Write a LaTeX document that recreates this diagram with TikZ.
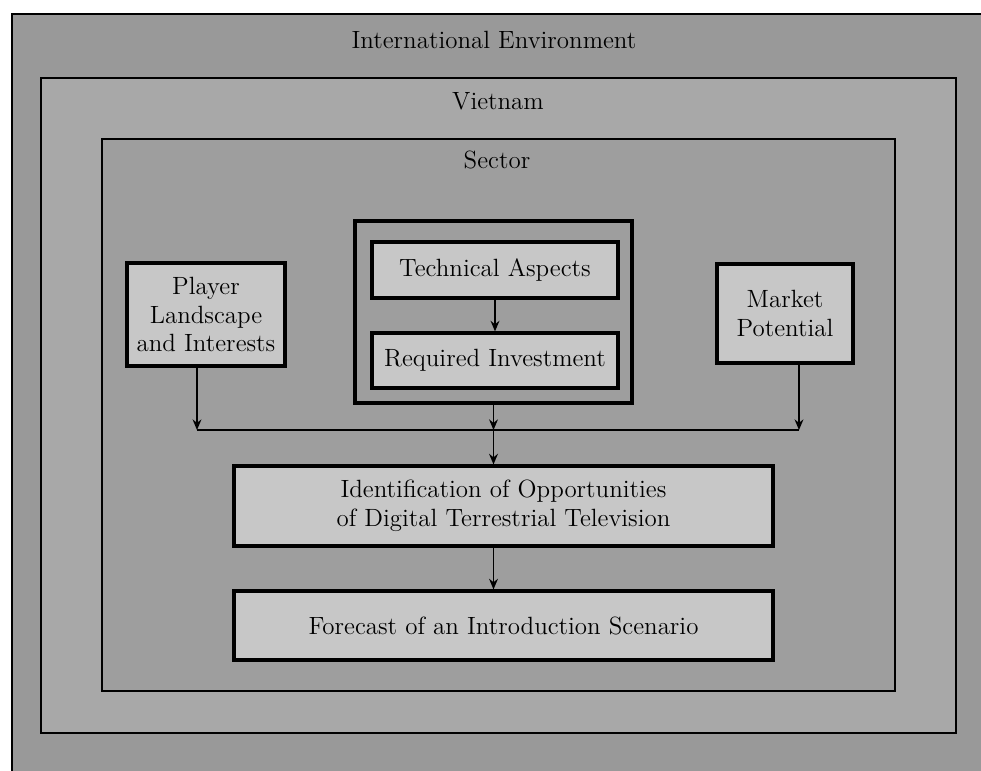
\documentclass[tikz,border=0pt]{standalone}
\usetikzlibrary{arrows.meta}

\tikzset{
  frame/.style={draw, line width=1pt, fill=#1, inner sep=0pt},
  box/.style={draw, line width=1.8pt, fill=black!22, align=center, inner sep=0pt},
  link/.style={line width=1.1pt},
  arr/.style={link, -{Stealth[length=6pt,width=5pt]}},
}

\begin{document}
\begin{tikzpicture}[x=0.02cm, y=-0.02cm, font=\fontsize{14.2}{16.4}\selectfont, node distance=1.81cm]
    \useasboundingbox (0,0) rectangle (981,771);
    \node(env)[frame=black!40, minimum width=19.56cm, minimum height=15.42cm] at (501,399.5) {};
    \node(vn)[frame=black!34, minimum width=18.3cm, minimum height=13.1cm] at (498.5,405.5) {};
    \node(sector)[frame=black!38, minimum width=15.86cm, minimum height=11.04cm] at (498.5,415) {};
    \node(envlabel) at (494,40) {International Environment};
    \node(vnlabel) at (498,101) {Vietnam};
    \node(sectorlabel) at (497,160) {Sector};

    \node(group)[draw, line width=1.8pt, minimum width=5.54cm, minimum height=3.64cm] at (493.5,312) {};
    \node(tech)[box, minimum width=4.92cm, minimum height=1.12cm] at (495,270) {Technical Aspects};
    \node(req)[box, minimum width=4.92cm, minimum height=1.1cm, below of=tech] {Required Investment};
    \node(player)[box, minimum width=3.16cm, minimum height=2.06cm] at (206,314.5) {Player\\Landscape\\and Interests};
    \node(market)[box, minimum width=2.72cm, minimum height=1.98cm] at (785,313.5) {Market\\Potential};
    \node(ident)[box, minimum width=10.78cm, minimum height=1.6cm] at (503.5,506) {Identification of Opportunities\\of Digital Terrestrial Television};
    \node(forecast)[box, minimum width=10.78cm, minimum height=1.38cm, below of=ident, node distance=2.39cm] {Forecast of an Introduction Scenario};

    \coordinate(join) at (493.5,430);
    \coordinate(pl) at ([xshift=-0.18cm]player.south);
    \coordinate(mk) at ([xshift=0.28cm]market.south);
    \draw[arr] (tech) -- (req);
    \draw[arr] (pl) -- (pl |- join);
    \draw[arr] (mk) -- (mk |- join);
    \draw[link] (pl |- join) -- (mk |- join);
    \draw[arr] (group) -- (join);
    \draw[arr] (join) -- (join |- ident.north);
    \draw[arr] (join |- ident.south) -- (join |- forecast.north);
  \end{tikzpicture}
\end{document}
